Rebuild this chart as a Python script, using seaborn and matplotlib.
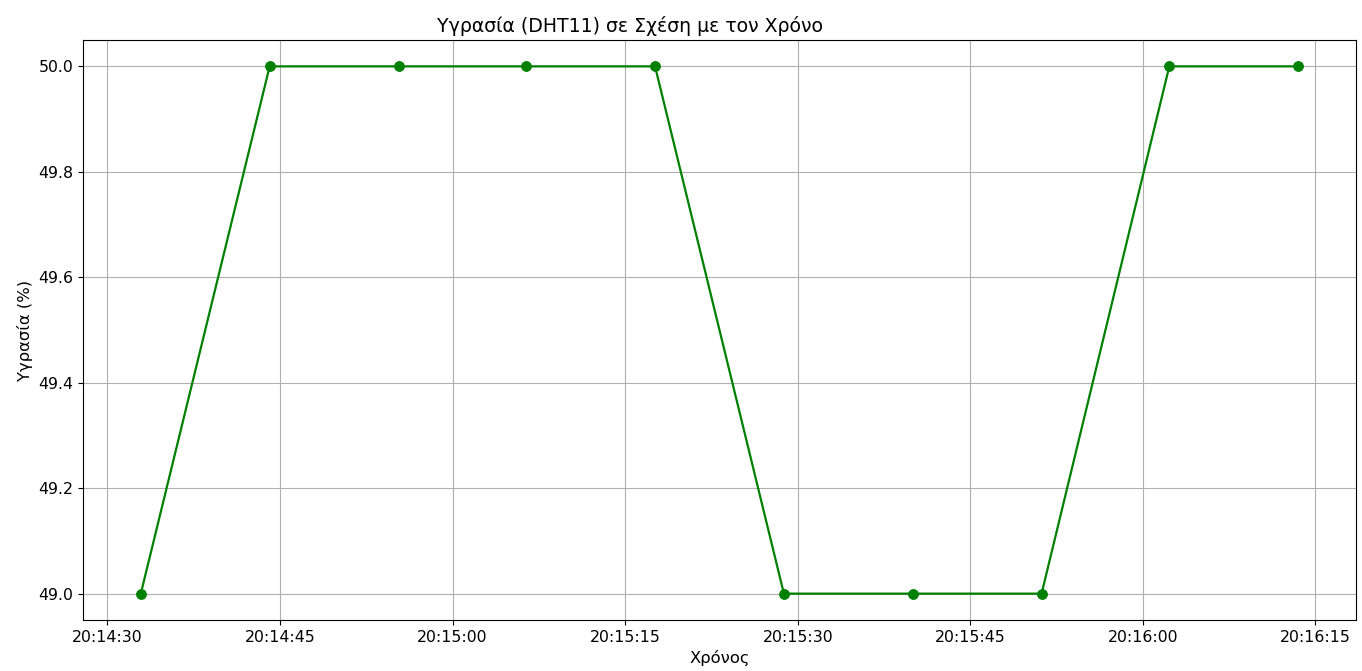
import pandas as pd
import matplotlib
matplotlib.use("Agg")
import matplotlib.pyplot as plt
import matplotlib.dates as mdates
import seaborn as sns

times = ["20:14:32.9", "20:14:44.1", "20:14:55.3", "20:15:06.4", "20:15:17.6",
         "20:15:28.8", "20:15:40.0", "20:15:51.2", "20:16:02.3", "20:16:13.5"]
humidity = [49, 50, 50, 50, 50, 49, 49, 49, 50, 50]

df = pd.DataFrame({
    "Time": pd.to_datetime(["2024-01-01 " + t for t in times]),
    "Humidity": humidity,
})

fig, ax = plt.subplots(figsize=(13.62, 6.71), dpi=100)
sns.lineplot(data=df, x="Time", y="Humidity", ax=ax, color="green",
             marker="o", markersize=7, markeredgecolor="green",
             markeredgewidth=0.75, linewidth=1.6)

ax.xaxis.set_major_locator(mdates.SecondLocator(bysecond=[0, 15, 30, 45]))
ax.xaxis.set_major_formatter(mdates.DateFormatter("%H:%M:%S"))
ax.tick_params(labelsize=11.3)
# the right part of the original title is blanked out, so the visible text starts left of centre
ax.set_title("Υγρασία (DHT11) σε Σχέση με τον Χρόνο", fontsize=13.6,
             x=0.278, ha="left")
ax.set_xlabel("Χρόνος", fontsize=11.8)
ax.set_ylabel("Υγρασία (%)", fontsize=11.8)
ax.grid(True)

plt.subplots_adjust(left=0.0609, right=0.9956, top=0.9404, bottom=0.0760)
plt.savefig("out.png", dpi=100)
